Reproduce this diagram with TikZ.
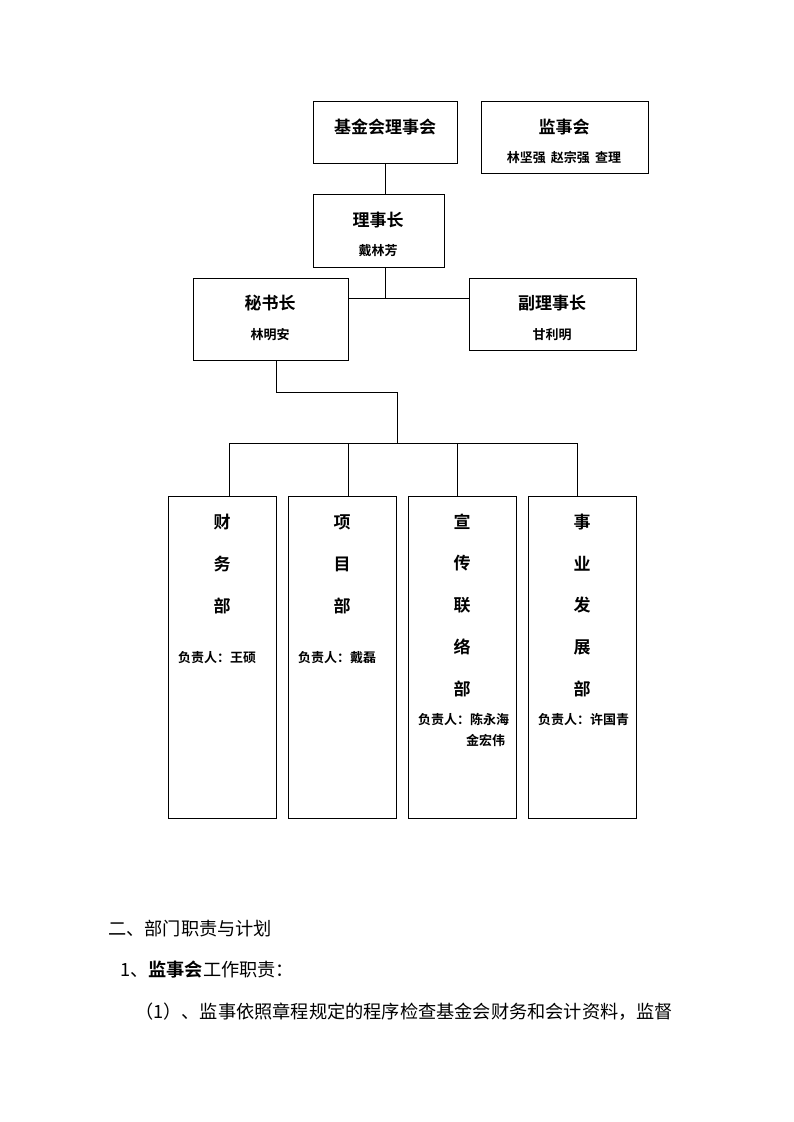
\documentclass[tikz,border=0pt]{standalone}
\usepackage{fontspec}
\newfontfamily\cjk{Noto Sans CJK SC}
\newfontfamily\cjkb{Noto Sans CJK SC Bold}
\begin{document}
\begin{tikzpicture}[x=1pt,y=-1pt,
  bx/.style={draw,line width=0.9pt},
  ln/.style={line width=0.9pt},
  tt/.style={font=\cjkb\fontsize{17}{17}\selectfont,inner sep=0pt},
  sm/.style={font=\cjkb\fontsize{13}{13}\selectfont,inner sep=0pt},
  bd/.style={font=\cjk\fontsize{18.2}{18.2}\selectfont,inner sep=0pt,anchor=west}]
\useasboundingbox[fill=white] (0,0) rectangle (793,1122);
\draw[bx] (313,101) rectangle (457,163);
\node[tt] (a) at (385,127) {基金会理事会};
\draw[bx] (481,101) rectangle (648,173);
\node[tt] (b) at (564,127) {监事会};
\node[sm] (b2) at (564,158) {林坚强\ \,赵宗强\ \,查理};
\draw[bx] (313,194) rectangle (444,267);
\node[tt] (c) at (378,220) {理事长};
\node[sm] (c2) at (378,251) {戴林芳};
\draw[bx] (193,278) rectangle (348,360);
\node[tt] (d) at (270,303) {秘书长};
\node[sm] (d2) at (270,335) {林明安};
\draw[bx] (469,278) rectangle (636,350);
\node[tt] (e) at (552,303) {副理事长};
\node[sm] (e2) at (552,335) {甘利明};
\coordinate (p1) at (385,163);
\coordinate (p2) at (385,194);
\draw[ln] (p1) -- (p2);
\draw[ln] (385,267) -- (385,298);
\draw[ln] (348,298) -- (469,298);
\draw[ln] (276,360) -- (276,392) -- (397,392) -- (397,443);
\draw[ln] (229,443) -- (577,443);
\foreach \x in {229,348,457,577} \draw[ln] (\x,443) -- (\x,496);
\foreach \l in {168,288,408,528} \draw[bx] (\l,496) rectangle (\l+108,818);
\foreach \c [count=\i] in {财,务,部} \node[tt] at (222,480+42*\i) {\c};
\foreach \c [count=\i] in {项,目,部} \node[tt] at (342,480+42*\i) {\c};
\foreach \c [count=\i] in {宣,传,联,络,部} \node[tt] at (462,480+41.75*\i) {\c};
\foreach \c [count=\i] in {事,业,发,展,部} \node[tt] at (582,480+41.75*\i) {\c};
\node[sm,anchor=west] (f1) at (178,658) {负责人：王硕};
\node[sm,anchor=west] (f2) at (298,658) {负责人：戴磊};
\node[sm,anchor=west] (f3) at (418,720) {负责人：陈永海};
\node[sm,anchor=west] (f3b) at (466,740) {金宏伟};
\node[sm,anchor=west] (f4) at (538,720) {负责人：许国青};
\node[bd] (t1) at (108,929) {二、部门职责与计划};
\node[bd] (t2) at (120,970) {1、{\cjkb 监事会}工作职责：};
\node[bd] (t3) at (135,1012) {（1）、监事依照章程规定的程序检查基金会财务和会计资料，监督};
\end{tikzpicture}
\end{document}
